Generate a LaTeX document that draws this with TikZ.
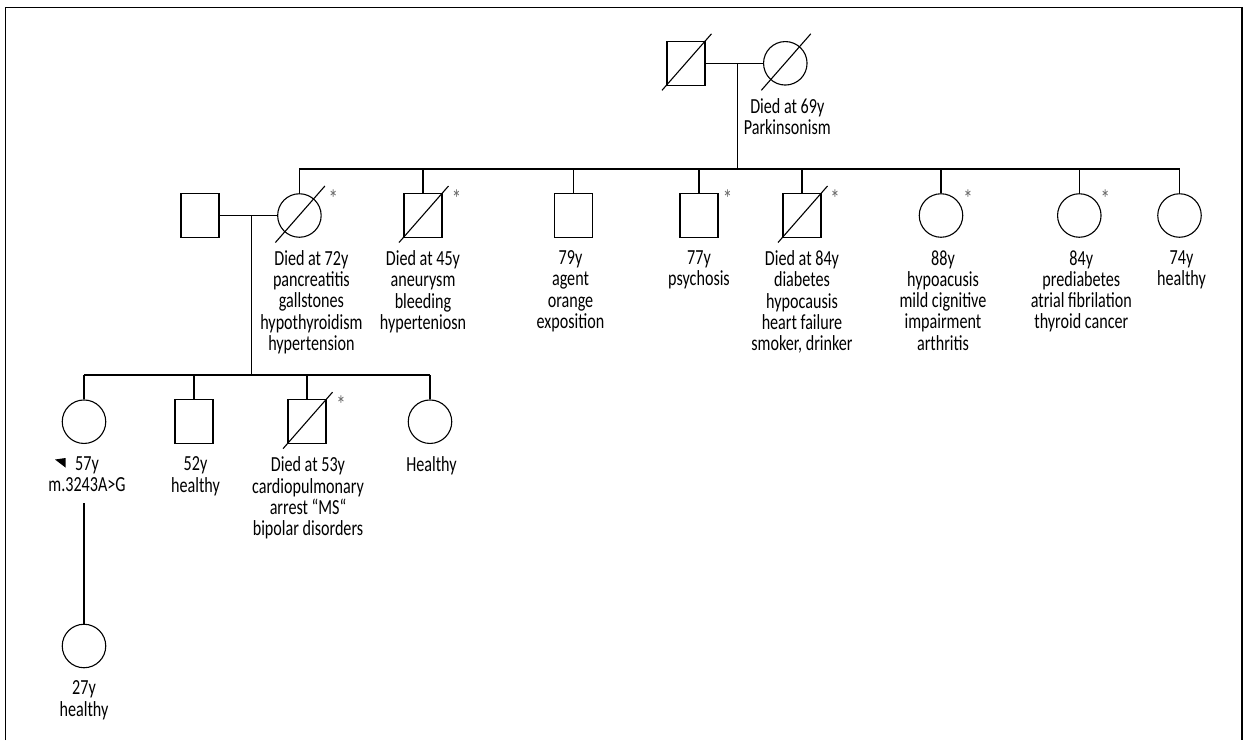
\documentclass[tikz,border=0pt]{standalone}
\usepackage{fontspec}
\setmainfont{Carlito}[FakeStretch=0.75]
\usepackage{tikz}
\usetikzlibrary{positioning}

\tikzset{
	male/.style={draw, rectangle, minimum width=38pt, minimum height=44pt, inner sep=0pt},
	female/.style={draw, circle, minimum size=43.5pt, inner sep=0pt},
	info/.style={align=center, inner sep=0pt, font=\fontsize{21.5pt}{21.3pt}\selectfont},
	flag/.style={anchor=north, inner sep=0pt, text=black!60, font=\fontsize{25pt}{25pt}\selectfont}
}
\newcommand{\deadslash}[1]{\draw ([shift={(-24,27)}]#1.center) -- ([shift={(25.5,-29.5)}]#1.center);}

\begin{document}
\begin{tikzpicture}[x=1pt, y=-1pt, line width=1.1pt]
				\useasboundingbox (0,0) rectangle (1246,740);
				\draw[line width=1.2pt] (5.7,740) -- (5.7,7.3) -- (1242,7.3) -- (1242,740);

				% grandparents
				\node[male] (gf) at (686,63.3) {};
				\node[female] (gm) at (785.3,63.3) {};
				\node[info, below=12pt of gm, xshift=2pt] (gm-txt) {Died at 69y\\Parkinsonism};
				\deadslash{gf}
				\deadslash{gm}
				\draw (gf) -- (gm);
				\coordinate (m1) at (737.7,63.3);

				% children
				\coordinate (sibL) at (299.4,169);
				\coordinate (sibR) at (1179.5,169);
				\node[male] (sp) at (200,215.5) {};
				\node[female] (s1) at (299.4,215.5) {};
				\node[male] (s2) at (423,215.5) {};
				\node[male] (s3) at (573.5,215.5) {};
				\node[male] (s4) at (699,215.5) {};
				\node[male] (s5) at (802,215.5) {};
				\node[female] (s6) at (941,215.5) {};
				\node[female] (s7) at (1079.3,215.5) {};
				\node[female] (s8) at (1179.5,215.5) {};

				\draw (m1) -- (m1 |- sibL);
				\draw (sibL) -- (sibR);
				\draw (s1.north) -- (s1.north |- sibL);
				\draw (s2.north) -- (s2.north |- sibL);
				\draw (s3.north) -- (s3.north |- sibL);
				\draw (s4.north) -- (s4.north |- sibL);
				\draw (s5.north) -- (s5.north |- sibL);
				\draw (s6.north) -- (s6.north |- sibL);
				\draw (s7.north) -- (s7.north |- sibL);
				\draw (s8.north) -- (s8.north |- sibL);
				\draw (sp) -- (s1);
				\deadslash{s1}
				\deadslash{s2}
				\deadslash{s5}

				\node[flag] at ([shift={(34,-26.5)}]s1.center) {*};
				\node[flag] at ([shift={(33.5,-26.5)}]s2.center) {*};
				\node[flag] at ([shift={(28.5,-26.5)}]s4.center) {*};
				\node[flag] at ([shift={(33,-26.5)}]s5.center) {*};
				\node[flag] at ([shift={(27,-26.5)}]s6.center) {*};
				\node[flag] at ([shift={(26,-26.5)}]s7.center) {*};

				\node[info, below=12pt of s1, xshift=12pt] (s1-txt) {Died at 72y\\pancreatitis\\gallstones\\hypothyroidism\\hypertension};
				\node[info, below=12pt of s2] (s2-txt) {Died at 45y\\aneurysm\\bleeding\\hyperteniosn};
				\node[info, below=12pt of s3, xshift=-3pt] (s3-txt) {79y\\agent\\orange\\exposition};
				\node[info, below=12pt of s4] (s4-txt) {77y\\psychosis};
				\node[info, below=12pt of s5] (s5-txt) {Died at 84y\\diabetes\\hypocausis\\heart failure\\smoker, drinker};
				\node[info, below=12pt of s6, xshift=2pt] (s6-txt) {88y\\hypoacusis\\mild cignitive\\impairment\\arthritis};
				\node[info, below=12pt of s7, xshift=2pt] (s7-txt) {84y\\prediabetes\\atrial fibrilation\\thyroid cancer};
				\node[info, below=12pt of s8, xshift=2pt] (s8-txt) {74y\\healthy};

				% grandchildren
				\coordinate (m2) at (251.5,215.5);
				\coordinate (kidL) at (84,375);
				\coordinate (kidR) at (430,375);
				\node[female] (c1) at (84,421.7) {};
				\node[male] (c2) at (194,421.7) {};
				\node[male] (c3) at (307,421.7) {};
				\node[female] (c4) at (430,421.7) {};

				\draw (m2) -- (m2 |- kidL);
				\draw (kidL) -- (kidR);
				\draw (c1.north) -- (c1.north |- kidL);
				\draw (c2.north) -- (c2.north |- kidL);
				\draw (c3.north) -- (c3.north |- kidL);
				\draw (c4.north) -- (c4.north |- kidL);
				\deadslash{c3}
				\node[flag] at ([shift={(34,-26.5)}]c3.center) {*};

				\node[info, below=12pt of c1, xshift=3pt] (c1-txt) {57y\\m.3243A>G};
				\node[info, below=12pt of c2, xshift=1.5pt] (c2-txt) {52y\\healthy};
				\node[info, below=12pt of c3, xshift=1pt] (c3-txt) {Died at 53y\\cardiopulmonary\\arrest “MS“\\bipolar disorders};
				\node[info, below=12pt of c4, xshift=1.5pt] (c4-txt) {Healthy};
				\fill (55,459.5) -- (65.5,458) -- (65.5,467.5) -- cycle;

				% great-grandchild
				\coordinate (pb) at (84,503.3);
				\node[female] (g1) at (84,646) {};
				\draw (pb) -- (g1);
				\node[info, below=12pt of g1] (g1-txt) {27y\\healthy};
			\end{tikzpicture}
\end{document}
